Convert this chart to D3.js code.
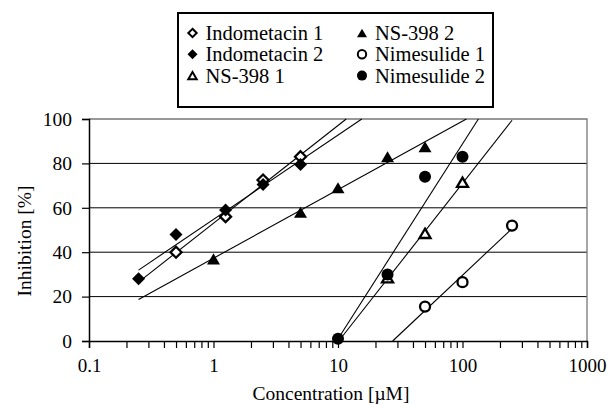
<!DOCTYPE html>
<html>
<head>
<meta charset="utf-8">
<script src="https://cdn.jsdelivr.net/npm/d3@7"></script>
<style>
  body { margin: 0; background: #fff; }
</style>
</head>
<body>
<div class="plot"></div>
<script>
// data
var indo1X = [0.5, 1.25, 2.5, 5];
var indo1Y = [40, 56, 72.5, 83];
var indo2X = [0.25, 0.5, 1.25, 2.5, 5];
var indo2Y = [28, 48, 59, 70.5, 79.5];
var ns1X = [25, 50, 100];
var ns1Y = [28.5, 48.5, 71.5];
var ns2X = [1, 5, 10, 25, 50];
var ns2Y = [37, 58, 69, 83, 87.5];
var nim1X = [50, 100, 250];
var nim1Y = [15.5, 26.5, 52];
var nim2X = [10, 25, 50, 100];
var nim2Y = [1, 30, 74, 83];

var xTicks = [0.1, 1, 10, 100, 1000];
var yTicks = [0, 20, 40, 60, 80, 100];
var trendRange = [0.25, 250];

var series = [
  {name: "Indometacin 1", shape: "diamond", filled: false, xs: indo1X, ys: indo1Y},
  {name: "Indometacin 2", shape: "diamond", filled: true, xs: indo2X, ys: indo2Y},
  {name: "NS-398 1", shape: "triangle", filled: false, xs: ns1X, ys: ns1Y},
  {name: "NS-398 2", shape: "triangle", filled: true, xs: ns2X, ys: ns2Y},
  {name: "Nimesulide 1", shape: "circle", filled: false, xs: nim1X, ys: nim1Y},
  {name: "Nimesulide 2", shape: "circle", filled: true, xs: nim2X, ys: nim2Y}
];

var W = 610, H = 405;
var plot = {left: 89, right: 587, top: 119, bottom: 341};
var serif = "'Liberation Serif', 'Times New Roman', serif";

var svg = d3.select(".plot").append("svg")
  .attr("width", W)
  .attr("height", H);

var x = d3.scaleLog().domain([0.1, 1000]).range([plot.left, plot.right]);
var y = d3.scaleLinear().domain([0, 100]).range([plot.bottom, plot.top]);

// marker path centred at 0,0
function marker(shape, s) {
  if (shape == "diamond") {
    return "M0," + (-s) + "L" + s + ",0L0," + s + "L" + (-s) + ",0Z";
  }
  if (shape == "triangle") {
    var h = s * 1.7;
    return "M0," + (-h / 2) + "L" + s + "," + (h / 2) + "L" + (-s) + "," + (h / 2) + "Z";
  }
  return "M" + s + ",0A" + s + "," + s + " 0 1,1 " + (-s) + ",0A" + s + "," + s + " 0 1,1 " + s + ",0Z";
}

// gridlines
svg.append("g")
  .selectAll("line")
  .data([20, 40, 60, 80])
  .enter()
  .append("line")
    .attr("x1", plot.left)
    .attr("x2", plot.right)
    .attr("y1", function(d) { return y(d); })
    .attr("y2", function(d) { return y(d); })
    .attr("stroke", "#000")
    .attr("stroke-width", 1);

// top and right border
svg.append("path")
  .attr("d", "M" + plot.left + "," + y(100) + "H" + plot.right + "V" + plot.bottom)
  .attr("fill", "none")
  .attr("stroke", "#777")
  .attr("stroke-width", 1.3);

// axes (minor ticks at 2..9 of each decade)
var xTickVals = d3.range(-1, 3).flatMap(function(e) {
  return d3.range(1, 10).map(function(m) { return m * Math.pow(10, e); });
}).concat([1000]);

var xAxis = svg.append("g")
  .attr("transform", "translate(0," + plot.bottom + ")")
  .call(d3.axisBottom(x).tickValues(xTickVals)
    .tickSize(7).tickPadding(11).tickFormat(function(d) {
      return xTicks.some(function(t) { return Math.abs(t - d) < 1e-9; }) ? d3.format("~g")(d) : "";
    }));
xAxis.attr("font-family", serif).attr("font-size", 19);
xAxis.select(".domain").attr("stroke", "#000").attr("stroke-width", 1.5);
xAxis.selectAll(".tick line").attr("stroke", "#000").attr("stroke-width", 1.2);

var yAxis = svg.append("g")
  .attr("transform", "translate(" + plot.left + ",0)")
  .call(d3.axisLeft(y).tickValues(yTicks).tickSize(7).tickPadding(10));
yAxis.attr("font-family", serif).attr("font-size", 19.5);
yAxis.select(".domain").attr("stroke", "#000").attr("stroke-width", 1.5);
yAxis.selectAll(".tick line").attr("stroke", "#000").attr("stroke-width", 1.2);

// logarithmic trendlines, clipped to 0..100
function fit(xs, ys) {
  var lx = xs.map(Math.log10);
  var mx = d3.mean(lx), my = d3.mean(ys);
  var sxy = d3.sum(lx, function(v, i) { return (v - mx) * (ys[i] - my); });
  var sxx = d3.sum(lx, function(v) { return (v - mx) * (v - mx); });
  var b = sxy / sxx;
  return {a: my - b * mx, b: b};
}

series.forEach(function(s) {
  var f = fit(s.xs, s.ys);
  var l0 = Math.log10(trendRange[0]), l1 = Math.log10(trendRange[1]);
  l0 = Math.max(l0, (0 - f.a) / f.b);
  l1 = Math.min(l1, (100 - f.a) / f.b);
  svg.append("line")
    .attr("x1", x(Math.pow(10, l0)))
    .attr("y1", y(f.a + f.b * l0))
    .attr("x2", x(Math.pow(10, l1)))
    .attr("y2", y(f.a + f.b * l1))
    .attr("stroke", "#000")
    .attr("stroke-width", 1.1);
});

// points
var sizes = {diamond: 6.5, triangle: 6.5, circle: 6};
series.forEach(function(s) {
  svg.append("g")
    .selectAll("path")
    .data(s.xs.map(function(v, i) { return [v, s.ys[i]]; }))
    .enter()
    .append("path")
      .attr("transform", function(d) { return "translate(" + x(d[0]) + "," + y(d[1]) + ")"; })
      .attr("d", marker(s.shape, s.filled ? sizes[s.shape] : sizes[s.shape] - 1))
      .attr("fill", s.filled ? "#000" : "#fff")
      .attr("stroke", "#000")
      .attr("stroke-width", s.filled ? 0 : 2.3);
});

// axis titles
svg.append("text")
  .attr("x", 331)
  .attr("y", 400)
  .attr("text-anchor", "middle")
  .style("font-family", serif)
  .style("font-size", "19.5px")
  .text("Concentration [\u00b5M]");

svg.append("text")
  .attr("transform", "translate(31,241) rotate(-90)")
  .attr("text-anchor", "middle")
  .style("font-family", serif)
  .style("font-size", "19.5px")
  .text("Inhibition [%]");

// legend
svg.append("rect")
  .attr("x", 178)
  .attr("y", 13)
  .attr("width", 315)
  .attr("height", 94)
  .attr("fill", "#fff")
  .attr("stroke", "#000")
  .attr("stroke-width", 2);

var legend = svg.append("g");
series.forEach(function(s, i) {
  var col = Math.floor(i / 3), row = i % 3;
  var mx = col == 0 ? 192.5 : 362;
  var my = 33 + row * 21.3;
  legend.append("path")
    .attr("transform", "translate(" + mx + "," + my + ")")
    .attr("d", marker(s.shape, s.filled ? 5 : 4.2))
    .attr("fill", s.filled ? "#000" : "#fff")
    .attr("stroke", "#000")
    .attr("stroke-width", s.filled ? 0 : 2);
  legend.append("text")
    .attr("x", mx + 13)
    .attr("y", my + 7)
    .style("font-family", serif)
    .style("font-size", "20.5px")
    .text(s.name);
});
</script>
</body>
</html>
